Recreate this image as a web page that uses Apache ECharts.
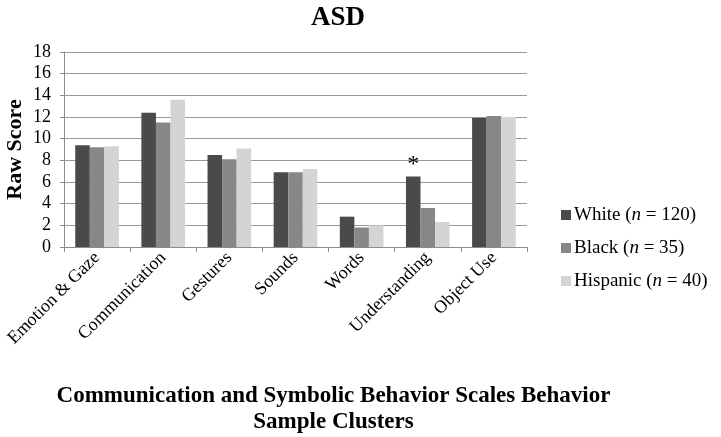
<!DOCTYPE html>
<html>
<head>
<meta charset="utf-8">
<script src="https://cdn.jsdelivr.net/npm/echarts@6/dist/echarts.min.js"></script>
<style>html,body{margin:0;padding:0;background:#fff}#c{width:721px;height:437px}</style>
</head>
<body>
<div id="c"></div>
<script>
var categories = ['Emotion & Gaze', 'Communication', 'Gestures', 'Sounds', 'Words', 'Understanding', 'Object Use'];
var whiteVals = [9.4, 12.4, 8.5, 6.9, 2.8, 6.5, 11.9];
var blackVals = [9.2, 11.5, 8.1, 6.9, 1.8, 3.6, 12.1];
var hispanicVals = [9.3, 13.6, 9.1, 7.2, 2.0, 2.3, 12.0];
var seriesNames = ['White', 'Black', 'Hispanic'];
var seriesN = [120, 35, 40];
var starIndex = 5;
var yTicks = [0, 2, 4, 6, 8, 10, 12, 14, 16, 18];

var serif = '"Liberation Serif", "DejaVu Serif", serif';
var colors = ['#4a4a4a', '#878787', '#d4d4d4'];
var chart = echarts.init(document.getElementById('c'));

var whiteData = whiteVals.map(function (v, i) {
  if (i === starIndex) {
    return { value: v, label: { show: true, position: 'top', formatter: '*', fontFamily: serif, fontSize: 24, color: '#000', distance: 0 } };
  }
  return v;
});

function mkSeries(name, data, idx) {
  return {
    name: name,
    type: 'bar',
    data: data,
    barGap: '0%',
    barCategoryGap: '34%',
    itemStyle: { color: colors[idx] },
    emphasis: { disabled: true }
  };
}

chart.setOption({
  animation: false,
  title: {
    text: 'ASD',
    left: 333, top: 0,
    textAlign: 'center',
    textStyle: { fontFamily: serif, fontWeight: 'bold', fontSize: 27, color: '#000' }
  },
  grid: { left: 64, right: 194, top: 52, bottom: 190, containLabel: false, outerBoundsMode: 'none' },
  legend: {
    orient: 'vertical',
    left: 556, top: 200,
    itemWidth: 10, itemHeight: 10, itemGap: 13,
    icon: 'rect',
    data: seriesNames,
    formatter: function (name) {
      var i = seriesNames.indexOf(name);
      return name + ' ({i|n} = ' + seriesN[i] + ')';
    },
    textStyle: {
      fontFamily: serif, fontSize: 19, color: '#000', lineHeight: 20, padding: [0, 0, 0, -2],
      rich: { i: { fontFamily: serif, fontSize: 19, fontStyle: 'italic', color: '#000' } }
    }
  },
  xAxis: {
    type: 'category',
    data: categories,
    name: 'Communication and Symbolic Behavior Scales Behavior\nSample Clusters',
    nameLocation: 'middle',
    nameGap: 136,
    nameMoveOverlap: false,
    nameTextStyle: { fontFamily: serif, fontWeight: 'bold', fontSize: 23, color: '#000', lineHeight: 26, padding: [0, 0, 0, 76] },
    axisLine: { lineStyle: { color: '#8c8c8c', width: 1 } },
    axisTick: { show: true, length: 5, lineStyle: { color: '#8c8c8c' } },
    axisLabel: { rotate: 45, fontFamily: serif, fontSize: 18, color: '#000', margin: 8, interval: 0 }
  },
  yAxis: {
    type: 'value',
    min: 0, max: 18, interval: 2,
    name: 'Raw Score',
    nameLocation: 'middle',
    nameGap: 38,
    nameMoveOverlap: false,
    nameTextStyle: { fontFamily: serif, fontWeight: 'bold', fontSize: 22, color: '#000' },
    axisLine: { show: true, lineStyle: { color: '#8c8c8c', width: 1 } },
    axisTick: { show: true, length: 4, lineStyle: { color: '#8c8c8c' } },
    axisLabel: { fontFamily: serif, fontSize: 18, color: '#000', margin: 13,
      formatter: function (v) { return yTicks.indexOf(v) >= 0 ? String(v) : ''; } },
    splitLine: { lineStyle: { color: '#999', width: 1 } }
  },
  series: [
    mkSeries(seriesNames[0], whiteData, 0),
    mkSeries(seriesNames[1], blackVals, 1),
    mkSeries(seriesNames[2], hispanicVals, 2)
  ]
});
</script>
</body>
</html>
